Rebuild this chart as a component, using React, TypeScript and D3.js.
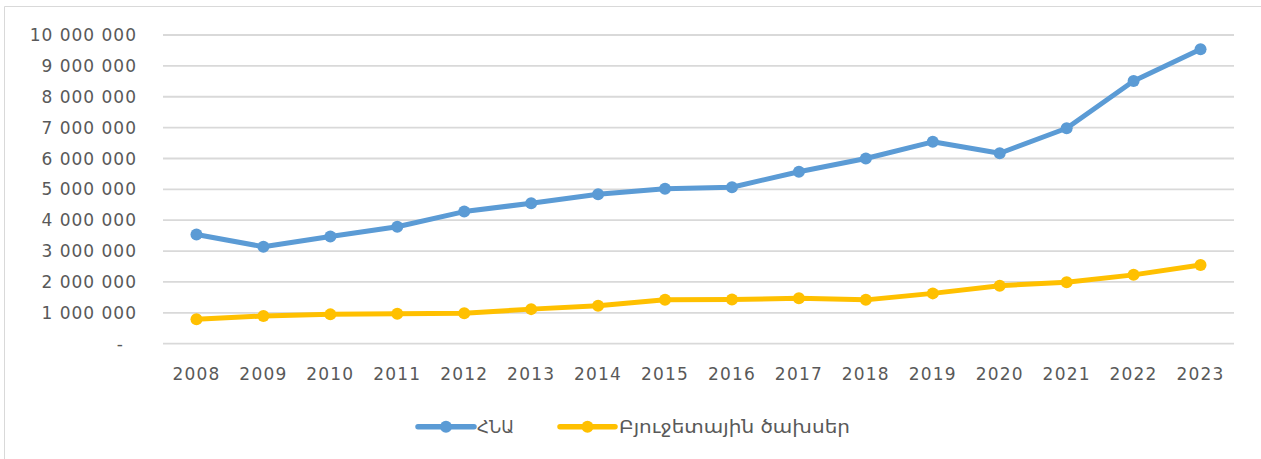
import React from "react";
import * as d3 from "d3";

const years = ["2008", "2009", "2010", "2011", "2012", "2013", "2014", "2015", "2016", "2017", "2018", "2019", "2020", "2021", "2022", "2023"];
const gdp = [3540000, 3140000, 3470000, 3790000, 4280000, 4550000, 4840000, 5020000, 5070000, 5570000, 6000000, 6540000, 6170000, 6980000, 8510000, 9540000];
const budget = [790000, 900000, 950000, 970000, 990000, 1120000, 1230000, 1420000, 1430000, 1470000, 1420000, 1630000, 1880000, 1990000, 2230000, 2550000];
const yTicks = [0, 1000000, 2000000, 3000000, 4000000, 5000000, 6000000, 7000000, 8000000, 9000000, 10000000];
const seriesNames = ["ՀՆԱ", "Բյուջետային ծախսեր"];
const seriesColors = ["#5B9BD5", "#FFC000"];

const W = 1261;
const H = 459;
const font = "'DejaVu Sans', sans-serif";

export default function App() {
    const x = d3.scalePoint(years, [163, 1234]).padding(0.5);
    const y = d3.scaleLinear([0, 10000000], [343.7, 35]);
    const line = d3.line<number>((d, i) => x(years[i])!, (d) => y(d));
    const fmt = (v: number) => (v === 0 ? "-" : d3.format(",")(v).replace(/,/g, " "));
    const series = [gdp, budget];

    // legend placement
    const legend = [
        { x1: 418, x2: 474, tx: 477, tl: 37 },
        { x1: 560, x2: 615, tx: 619, tl: 231 },
    ];

    return (
        <svg width={W} height={H} style={{ position: "absolute", left: 0, top: 0, background: "#fff" }}>
            <rect width={W} height={H} fill="#fff" />
            {/* chart frame */}
            <line x1={4.5} x2={W} y1={6.5} y2={6.5} stroke="#d9d9d9" strokeWidth={1} />
            <line x1={4.5} x2={4.5} y1={6.5} y2={H} stroke="#d9d9d9" strokeWidth={1} />

            <g>
                {yTicks.map((t) => (
                    <line key={t} x1={163} x2={1234} y1={y(t)} y2={y(t)} stroke="#d9d9d9" strokeWidth={1.8} />
                ))}
            </g>
            <g fontFamily={font} fontSize={17} fill="#595959" textAnchor="end" letterSpacing={1}>
                {yTicks.map((t) => (
                    <text key={t} x={t === 0 ? 124 : 137} y={y(t)} dy="0.36em">{fmt(t)}</text>
                ))}
            </g>
            <g fontFamily={font} fontSize={17} fill="#595959" textAnchor="middle" letterSpacing={1.2}>
                {years.map((yr) => (
                    <text key={yr} x={x(yr)} y={379.5}>{yr}</text>
                ))}
            </g>

            {series.map((s, k) => (
                <g key={k}>
                    <path d={line(s)!} fill="none" stroke={seriesColors[k]} strokeWidth={5} strokeLinejoin="round" />
                    {s.map((v, i) => (
                        <circle key={i} cx={x(years[i])} cy={y(v)} r={6} fill={seriesColors[k]} />
                    ))}
                </g>
            ))}

            <g fontFamily={font} fontSize={17} fill="#595959">
                {legend.map((l, k) => (
                    <g key={k}>
                        <line x1={l.x1} x2={l.x2} y1={426.7} y2={426.7} stroke={seriesColors[k]} strokeWidth={5.5} strokeLinecap="round" />
                        <circle cx={(l.x1 + l.x2) / 2} cy={426.7} r={6} fill={seriesColors[k]} />
                        <text x={l.tx} y={432.7} textLength={l.tl} lengthAdjust="spacingAndGlyphs">{seriesNames[k]}</text>
                    </g>
                ))}
            </g>
        </svg>
    );
}
